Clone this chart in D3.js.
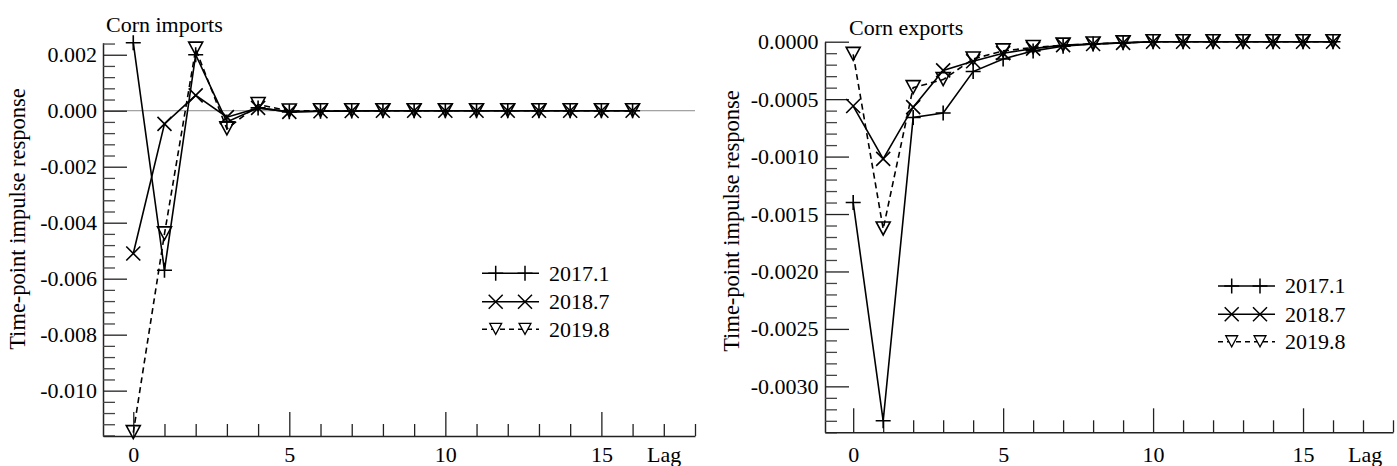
<!DOCTYPE html>
<html><head><meta charset="utf-8">
<script src="https://cdn.jsdelivr.net/npm/d3@7"></script>
<style>
body{margin:0;background:#fff}
svg{display:block}
svg text{font-family:"Liberation Serif","Times New Roman","Nimbus Roman","DejaVu Serif",serif !important;fill:#000}
</style>
</head><body>
<svg id="c" width="1397" height="466"></svg>
<script>
// ---------- data ----------
const lags = [0,1,2,3,4,5,6,7,8,9,10,11,12,13,14,15,16];
const seriesNames = ["2017.1","2018.7","2019.8"];
const panelTitles = ["Corn imports","Corn exports"];
const yAxisTitle = "Time-point impulse response";
const xAxisTitle = "Lag";
const xTickLabels = [0,5,10,15];
const importYTicks = [-0.010,-0.008,-0.006,-0.004,-0.002,0.000,0.002];
const exportYTicks = [-0.0030,-0.0025,-0.0020,-0.0015,-0.0010,-0.0005,0.0000];

const imports2017 = [0.00243,-0.00570,0.00200,-0.00040,0.00010,-0.00004,-0.00002,-0.00001,0,0,0,0,0,0,0,0,0];
const imports2018 = [-0.00510,-0.00047,0.00055,-0.00023,0.00010,-0.00004,-0.00002,-0.00001,0,0,0,0,0,0,0,0,0];
const imports2019 = [-0.01150,-0.00440,0.00220,-0.00065,0.00022,-0.00001,0,0,0,0,0,0,0,0,0,0,0];

const exports2017 = [-0.00140,-0.00330,-0.00066,-0.00062,-0.00026,-0.00015,-0.00008,-0.00004,-0.00002,-0.00001,0,0,0,0,0,0,0];
const exports2018 = [-0.00056,-0.00102,-0.00057,-0.00025,-0.00017,-0.00010,-0.00006,-0.00003,-0.00002,-0.00001,0,0,0,0,0,0,0];
const exports2019 = [-0.00011,-0.00163,-0.00040,-0.00033,-0.00015,-0.00008,-0.00005,-0.00003,-0.00002,-0.00001,0,0,0,0,0,0,0];

// ---------- layout ----------
const FONT = '"Liberation Serif","Times New Roman","Nimbus Roman","DejaVu Serif",serif';
const INK = "#000";
const svg = d3.select("#c");
const markers = {
  plus: "M-7.5,0H7.5M0,-7.5V7.5",
  cross: "M-7,-7L7,7M-7,7L7,-7",
  tri: "M-7,-7H7L0,6Z"
};
const styles = [
  {marker:"plus", dash:null},
  {marker:"cross", dash:null},
  {marker:"tri", dash:"6,4"}
];

const panels = [
  {
    title: panelTitles[0], titleX:106, titleY:31.7,
    series:[imports2017,imports2018,imports2019],
    xDomain:[-0.97,18], xRange:[103,695],
    yDomain:[0.00243,-0.01162], yRange:[42.7,436],
    yTicks: importYTicks, yMinorStep:0.0004, yMinorFrom:-0.0116, yMinorTo:0.0024, yMajorStep:0.002,
    fmt: ".3f", zeroLine:true,
    yTitleX:24.5, yTitleY:219, lagX:647, labelPad:6,
    legend:{x0:482,x1:539,m:[495.7,525],tx:549,rows:[273.3,301.7,329.3]}
  },
  {
    title: panelTitles[1], titleX:849, titleY:35,
    series:[exports2017,exports2018,exports2019],
    xDomain:[-0.94,18], xRange:[825,1393],
    yDomain:[0,-0.0034], yRange:[41.7,432.3],
    yTicks: exportYTicks, yMinorStep:0.0001, yMinorFrom:-0.0034, yMinorTo:0, yMajorStep:0.0005,
    fmt: ".4f", zeroLine:false,
    yTitleX:738.5, yTitleY:221, lagX:1348, labelPad:6.5,
    legend:{x0:1218,x1:1275,m:[1231.7,1260],tx:1285,rows:[286,314.3,341.7]}
  }
];

panels.forEach(p => {
  const g = svg.append("g");
  const x = d3.scaleLinear().domain(p.xDomain).range(p.xRange);
  const y = d3.scaleLinear().domain(p.yDomain).range(p.yRange);
  const f = d3.format(p.fmt);
  const fmt = v => f(v).replace("\u2212","-");

  const n0 = Math.round(p.yMinorFrom / p.yMinorStep), n1 = Math.round(p.yMinorTo / p.yMinorStep);
  const yMinor = d3.range(n0, n1 + 1).map(i => i * p.yMinorStep)
    .filter(v => { const r = v / p.yMajorStep; return Math.abs(r - Math.round(r)) > 1e-6; });
  const xMinor = d3.range(1, 19).filter(v => v % 5 !== 0);

  if (p.zeroLine) {
    g.append("line").attr("x1", p.xRange[0]).attr("x2", p.xRange[1])
      .attr("y1", y(0)).attr("y2", y(0))
      .attr("stroke", "#8a8a8a").attr("stroke-width", 1);
  }

  // y axis
  const yAx = g.append("g").attr("transform", `translate(${p.xRange[0]},0)`)
    .call(d3.axisLeft(y).tickValues(p.yTicks).tickSize(-24).tickSizeOuter(0).tickPadding(p.labelPad).tickFormat(fmt));
  yAx.attr("font-family", null).attr("font-size", null);
  yAx.select(".domain").attr("stroke", "#222").attr("stroke-width", 1.5);
  yAx.selectAll(".tick line").attr("stroke", "#222").attr("stroke-width", 1.3);
  yAx.selectAll("text").style("font-family", FONT).style("font-size", "22px").attr("fill", INK);
  const yAxM = g.append("g").attr("transform", `translate(${p.xRange[0]},0)`)
    .call(d3.axisLeft(y).tickValues(yMinor).tickSize(-12).tickFormat(""));
  yAxM.select(".domain").remove();
  yAxM.selectAll(".tick line").attr("stroke", "#444").attr("stroke-width", 1.3);

  // x axis
  const xAx = g.append("g").attr("transform", `translate(0,${p.yRange[1]})`)
    .call(d3.axisBottom(x).tickValues(xTickLabels).tickSize(-24).tickSizeOuter(0).tickPadding(0).tickFormat(d3.format("d")));
  xAx.attr("font-family", null).attr("font-size", null);
  xAx.select(".domain").attr("stroke", "#222").attr("stroke-width", 1.5);
  xAx.selectAll(".tick line").attr("stroke", "#222").attr("stroke-width", 1.3);
  xAx.selectAll("text").style("font-family", FONT).style("font-size", "22px").attr("fill", INK)
    .attr("y", 0).attr("dy", null).attr("transform", `translate(0,${462 - p.yRange[1]})`);
  const xAxM = g.append("g").attr("transform", `translate(0,${p.yRange[1]})`)
    .call(d3.axisBottom(x).tickValues(xMinor).tickSize(-12).tickFormat(""));
  xAxM.select(".domain").remove();
  xAxM.selectAll(".tick line").attr("stroke", "#222").attr("stroke-width", 1.3);

  // texts
  g.append("text").attr("x", p.titleX).attr("y", p.titleY).style("font-family", FONT).style("font-size", "22px").text(p.title);
  g.append("text").attr("x", p.lagX).attr("y", 462).style("font-family", FONT).style("font-size", "22px").text(xAxisTitle);
  g.append("text").attr("transform", `translate(${p.yTitleX},${p.yTitleY}) rotate(-90)`)
    .attr("text-anchor", "middle").style("font-family", FONT).style("font-size", "22.5px").text(yAxisTitle);

  // series
  const line = d3.line().x((d, i) => x(lags[i])).y(d => y(d));
  p.series.forEach((s, k) => {
    const st = styles[k];
    g.append("path").datum(s).attr("d", line).attr("fill", "none")
      .attr("stroke", INK).attr("stroke-width", 1.6)
      .attr("stroke-dasharray", st.dash);
    g.selectAll(null).data(s).enter().append("path")
      .attr("transform", (d, i) => `translate(${x(lags[i])},${y(d)})`)
      .attr("d", markers[st.marker]).attr("fill", "none")
      .attr("stroke", INK).attr("stroke-width", 1.6);
  });

  // legend
  const L = p.legend;
  seriesNames.forEach((name, k) => {
    const st = styles[k];
    const ry = L.rows[k];
    g.append("line").attr("x1", L.x0).attr("x2", L.x1).attr("y1", ry).attr("y2", ry)
      .attr("stroke", INK).attr("stroke-width", 1.5).attr("stroke-dasharray", st.dash ? "5,4" : null);
    L.m.forEach(mx => {
      g.append("path").attr("transform", `translate(${mx},${ry})${st.marker==="tri" ? " scale(0.85)" : ""}`)
        .attr("d", markers[st.marker]).attr("fill", st.marker === "tri" ? "#fff" : "none")
        .attr("stroke", INK).attr("stroke-width", 1.5);
    });
    g.append("text").attr("x", L.tx).attr("y", ry).attr("dy", "0.33em")
      .style("font-family", FONT).style("font-size", "22px").text(name);
  });
});
</script>
</body></html>
